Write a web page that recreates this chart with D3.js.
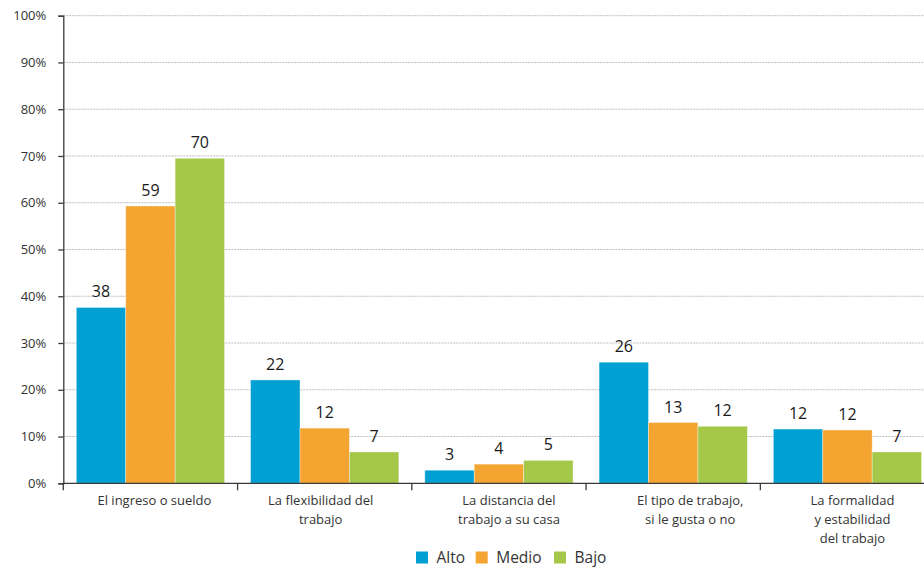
<!DOCTYPE html>
<html>
<head>
<meta charset="utf-8">
<script src="https://cdn.jsdelivr.net/npm/d3@7"></script>
<style>
  html, body { margin: 0; padding: 0; background: #fff; }
  svg { display: block; font-family: "Open Sans", "Noto Sans", sans-serif; }
</style>
</head>
<body>
<div id="chart"></div>
<script>
const categories = [
  ["El ingreso o sueldo"],
  ["La flexibilidad del", "trabajo"],
  ["La distancia del", "trabajo a su casa"],
  ["El tipo de trabajo,", "si le gusta o no"],
  ["La formalidad", "y estabilidad", "del trabajo"]
];
const seriesNames = ["Alto", "Medio", "Bajo"];
const alto  = [37.6, 22.1, 2.8, 25.9, 11.6];
const medio = [59.3, 11.8, 4.1, 13.0, 11.4];
const bajo  = [69.5, 6.7, 4.9, 12.2, 6.7];
const altoLabels  = ["38", "22", "3", "26", "12"];
const medioLabels = ["59", "12", "4", "13", "12"];
const bajoLabels  = ["70", "7", "5", "12", "7"];
const yTicks = [0, 10, 20, 30, 40, 50, 60, 70, 80, 90, 100];
const colors = ["#00a0d3", "#f4a431", "#a6c84a"];
const labelNudge = [4, -4, 10, 17, 5];

(function () {
const W = 924, H = 568;
const mLeft = 63.3, mRight = 934.6, mTop = 15.7, mBottom = 483.3;

const svg = d3.select("#chart").append("svg").attr("width", W).attr("height", H);

const y = d3.scaleLinear().domain([0, 100]).range([mBottom, mTop]);
const catIdx = d3.range(categories.length);
const x0 = d3.scaleBand().domain(catIdx).range([mLeft, mRight]).paddingInner(0).paddingOuter(0);
const bw = x0.bandwidth();
const pad = bw * 0.0746;
const x1 = d3.scaleBand().domain(seriesNames).range([pad, bw - pad]).padding(0);

// gridlines
svg.append("g").selectAll("line").data(yTicks.filter(d => d > 0)).join("line")
  .attr("x1", mLeft).attr("x2", mRight)
  .attr("y1", d => y(d)).attr("y2", d => y(d))
  .attr("stroke", "#bdbdbd").attr("stroke-width", 1)
  .attr("stroke-dasharray", "2,1");

// y axis
const yAxis = d3.axisLeft(y).tickValues(yTicks).tickFormat(d => d + "%").tickSize(5).tickPadding(12);
const gy = svg.append("g").attr("transform", `translate(${mLeft},0)`).call(yAxis);
gy.select(".domain").attr("stroke", "#3a3a3a").attr("stroke-width", 1.3);
gy.selectAll(".tick line").attr("stroke", "#3a3a3a").attr("stroke-width", 1.3);
gy.selectAll(".tick text").attr("fill", "#333").style("font-size", "13px")
  .style("font-family", "\"Open Sans\", sans-serif");

// bars
const data = catIdx.map(i => ({
  i,
  vals: [
    {s: "Alto", v: alto[i], l: altoLabels[i], c: colors[0]},
    {s: "Medio", v: medio[i], l: medioLabels[i], c: colors[1]},
    {s: "Bajo", v: bajo[i], l: bajoLabels[i], c: colors[2]}
  ]
}));

const groups = svg.append("g").selectAll("g").data(data).join("g")
  .attr("transform", d => `translate(${x0(d.i)},0)`);

groups.selectAll("rect").data(d => d.vals).join("rect")
  .attr("x", d => x1(d.s))
  .attr("y", d => y(d.v))
  .attr("width", x1.bandwidth())
  .attr("height", d => y(0) - y(d.v))
  .attr("fill", d => d.c)
  .attr("stroke", "rgba(255,255,255,0.45)")
  .attr("stroke-width", 0.8);

groups.selectAll("text.val").data(d => d.vals).join("text")
  .attr("class", "val")
  .attr("x", d => x1(d.s) + x1.bandwidth() / 2)
  .attr("y", d => y(d.v) - 10)
  .attr("text-anchor", "middle")
  .attr("fill", "#1a1a1a")
  .style("font-size", "16px")
  .text(d => d.l);

// x axis baseline and ticks
const xAxisG = svg.append("g");
xAxisG.append("line")
  .attr("x1", mLeft).attr("x2", mRight)
  .attr("y1", y(0)).attr("y2", y(0))
  .attr("stroke", "#3a3a3a").attr("stroke-width", 1.3);
xAxisG.selectAll("line.tk").data(catIdx.concat([categories.length])).join("line")
  .attr("class", "tk")
  .attr("x1", d => d < categories.length ? x0(d) : mRight)
  .attr("x2", d => d < categories.length ? x0(d) : mRight)
  .attr("y1", y(0)).attr("y2", y(0) + 7)
  .attr("stroke", "#3a3a3a").attr("stroke-width", 1.3);

// category labels
const catLabels = svg.append("g").selectAll("text").data(catIdx).join("text")
  .attr("x", i => x0(i) + bw / 2 + labelNudge[i])
  .attr("y", 505)
  .attr("text-anchor", "middle")
  .attr("fill", "#333")
  .style("font-size", "13px");
catLabels.each(function(i) {
  const t = d3.select(this);
  categories[i].forEach((line, k) => {
    t.append("tspan").attr("x", x0(i) + bw / 2 + labelNudge[i]).attr("dy", k === 0 ? 0 : 19).text(line);
  });
});

// legend
const legendX = [416, 475.7, 554];
const legend = svg.append("g").selectAll("g").data(seriesNames).join("g")
  .attr("transform", (d, k) => `translate(${legendX[k]},551.5)`);
legend.append("rect").attr("width", 12).attr("height", 12).attr("fill", (d, k) => colors[k]);
legend.append("text").attr("x", 20.5).attr("y", 11.8)
  .attr("fill", "#333").style("font-size", "15.5px").text(d => d);
})();
</script>
</body>
</html>
